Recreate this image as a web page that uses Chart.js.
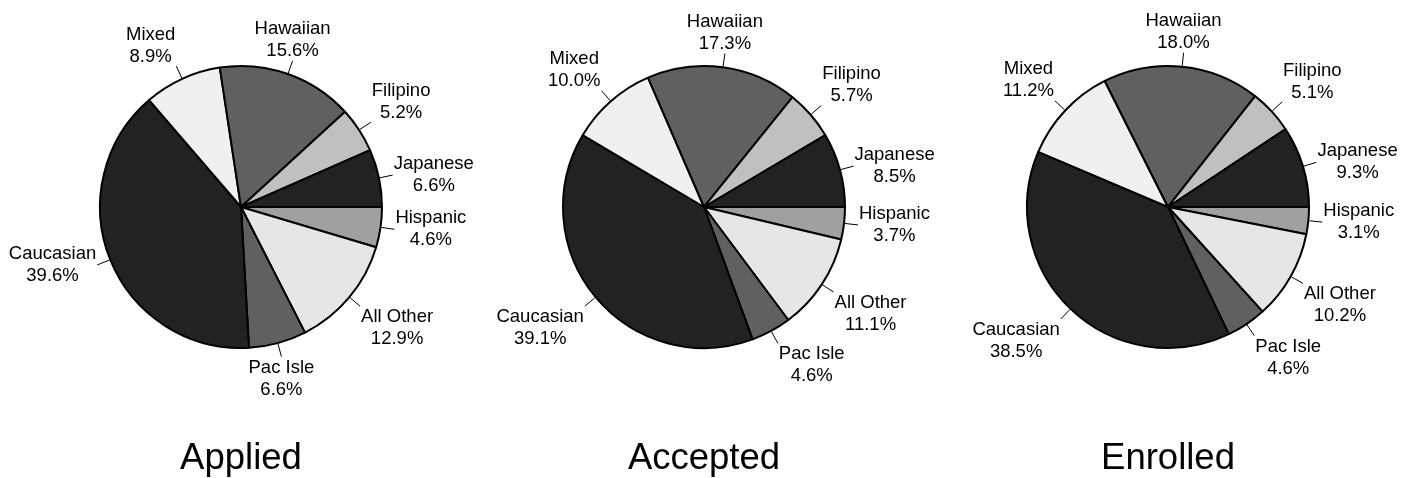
<!DOCTYPE html>
<html lang="en">
<head>
    <meta charset="UTF-8">
    <title>Applied / Accepted / Enrolled by Ethnicity</title>
    <style>
        body {
            margin: 0;
            width: 1413px;
            height: 478px;
            background: #ffffff;
            overflow: hidden;
            position: relative;
        }

        .pie-box {
            position: absolute;
            top: 0;
            width: 470px;
            height: 478px;
        }
    </style>
</head>
<body>
    <div class="pie-box" style="left: 6px;"><canvas id="pieApplied" width="470" height="478"></canvas></div>
    <div class="pie-box" style="left: 469px;"><canvas id="pieAccepted" width="470" height="478"></canvas></div>
    <div class="pie-box" style="left: 933px;"><canvas id="pieEnrolled" width="470" height="478"></canvas></div>

    <script src="https://cdn.jsdelivr.net/npm/chart.js"></script>

    <script>
        // Slices, clockwise from 3 o'clock
        const categories = ['Hispanic', 'All Other', 'Pac Isle', 'Caucasian', 'Mixed', 'Hawaiian', 'Filipino', 'Japanese'];

        // Percent of each group
        const applied  = [4.6, 12.9, 6.6, 39.6, 8.9, 15.6, 5.2, 6.6];
        const accepted = [3.7, 11.1, 4.6, 39.1, 10.0, 17.3, 5.7, 8.5];
        const enrolled = [3.1, 10.2, 4.6, 38.5, 11.2, 18.0, 5.1, 9.3];

        const chartTitles = ['Applied', 'Accepted', 'Enrolled'];

        // Gray fills, same order as categories
        const sliceColors = ['#a0a0a0', '#e6e6e6', '#606060', '#222222', '#f0f0f0', '#606060', '#c0c0c0', '#222222'];

        const FONT = '"Liberation Sans", Arial, sans-serif';
        const LINE_H = 22;
        const GAP = 1;

        Chart.defaults.font.family = FONT;

        // Draws "Name / xx.x%" outside each slice with a short leader line
        const outsideLabels = {
            id: 'outsideLabels',
            afterDatasetsDraw(chart) {
                const ctx = chart.ctx;
                const meta = chart.getDatasetMeta(0);
                const values = chart.data.datasets[0].data;
                const lim = Math.sin(Math.PI / 8);

                ctx.save();
                ctx.font = '18.5px ' + FONT;
                ctx.fillStyle = '#000';
                ctx.strokeStyle = '#000';
                ctx.lineWidth = 1;
                ctx.textAlign = 'center';
                ctx.textBaseline = 'middle';

                meta.data.forEach((arc, i) => {
                    const p = arc.getProps(['x', 'y', 'startAngle', 'endAngle', 'outerRadius'], true);
                    const mid = (p.startAngle + p.endAngle) / 2;
                    const cos = Math.cos(mid), sin = Math.sin(mid);
                    const r0 = p.outerRadius + 1, r1 = p.outerRadius + 14;
                    const ex = p.x + cos * r1, ey = p.y + sin * r1;

                    ctx.beginPath();
                    ctx.moveTo(p.x + cos * r0, p.y + sin * r0);
                    ctx.lineTo(ex, ey);
                    ctx.stroke();

                    const lines = [chart.data.labels[i], values[i].toFixed(1) + '%'];
                    const w = Math.max(...lines.map(t => ctx.measureText(t).width));
                    const h = lines.length * LINE_H;

                    let bx = ex - w / 2, by = ey - h / 2;
                    if (cos > lim) bx = ex + GAP;
                    else if (cos < -lim) bx = ex - GAP - w;
                    if (sin > lim) by = ey;
                    else if (sin < -lim) by = ey - h + 1.5;

                    lines.forEach((t, k) => ctx.fillText(t, bx + w / 2, by + LINE_H * (k + 0.5)));
                });
                ctx.restore();
            }
        };

        function makePie(canvasId, values, title) {
            const ctx = document.getElementById(canvasId).getContext('2d');
            return new Chart(ctx, {
                type: 'pie',
                data: {
                    labels: categories,
                    datasets: [{
                        data: values,
                        backgroundColor: sliceColors,
                        borderColor: '#000000',
                        borderWidth: 2
                    }]
                },
                options: {
                    responsive: false,
                    animation: false,
                    events: [],
                    rotation: 90,
                    radius: 141,
                    layout: { padding: { top: 3 } },
                    plugins: {
                        legend: { display: false },
                        tooltip: { enabled: false },
                        title: {
                            display: true,
                            text: title,
                            position: 'bottom',
                            color: '#000',
                            font: { size: 36.5, weight: 'normal', lineHeight: 1.05 },
                            padding: { top: 28.7, bottom: 0 }
                        }
                    }
                },
                plugins: [outsideLabels]
            });
        }

        makePie('pieApplied', applied, chartTitles[0]);
        makePie('pieAccepted', accepted, chartTitles[1]);
        makePie('pieEnrolled', enrolled, chartTitles[2]);
    </script>
</body>
</html>
